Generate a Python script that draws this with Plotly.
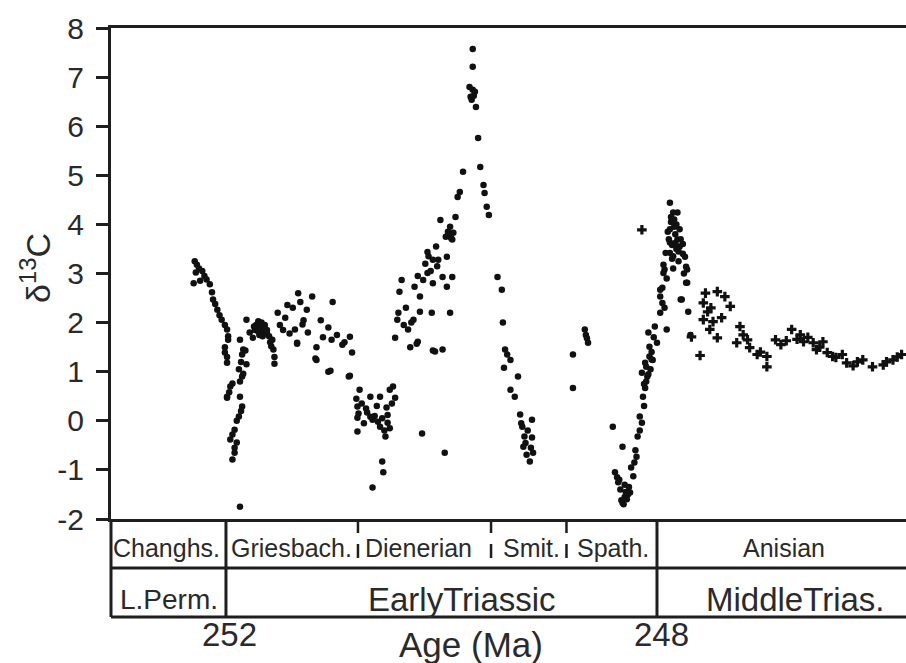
import plotly.graph_objects as go

# ---------------- data (age in Ma, delta13C in permil) ----------------
dot_age = [
    252.29, 252.27, 252.25, 252.28, 252.22, 252.20, 252.24, 252.30, 252.18, 252.15, 252.13,
    252.12, 252.10, 252.08, 252.06, 252.04, 252.01, 251.99, 251.98, 251.98, 252.01, 252.01, 251.99, 251.99,
    251.87, 251.84, 251.85, 251.86, 251.88, 251.85, 251.87, 251.96, 251.99, 251.97, 251.87, 251.85, 251.86,
    251.88, 251.90, 251.92, 251.94, 251.96, 251.90, 251.92, 251.92, 251.94, 251.87, 251.94, 251.99,
    251.81, 251.82, 251.84, 251.81, 251.75, 251.78, 251.72, 251.70, 251.68, 251.66, 251.64, 251.62, 251.69,
    251.73, 251.60, 251.57, 251.56, 251.55, 251.55, 251.52, 251.43, 251.33, 251.31, 251.25, 251.20, 251.36,
    251.34, 251.34, 251.29, 251.01, 251.16, 251.16, 251.17, 251.10, 251.05, 251.02, 251.05, 251.03, 250.92,
    250.85, 250.83, 250.85, 251.47, 251.50, 251.41, 251.45, 251.38, 251.12, 250.97, 250.90, 251.24, 251.28,
    251.71, 251.68, 251.66, 251.70, 251.64, 251.67, 251.62, 251.74, 251.59, 251.58,
    250.86, 250.76, 250.78, 250.78, 250.78, 250.79, 250.77, 250.69, 250.64, 250.57, 250.52, 250.66, 250.57,
    250.48, 250.45, 250.43, 250.51, 250.50, 250.60, 250.62, 250.55, 250.48, 250.46, 250.72, 250.74, 250.55,
    250.54, 250.64, 250.18, 249.97, 250.70, 250.66, 250.59, 250.53, 250.50,
    250.43, 250.41, 250.40, 250.31, 250.29, 250.22, 250.26, 250.20, 250.09, 249.92, 250.06, 250.39, 250.37,
    250.25, 250.20, 250.17, 250.13, 250.13, 250.08, 250.03, 249.95, 249.99, 249.95, 249.90, 250.01, 249.94,
    249.90, 249.89, 249.87, 249.85, 249.83, 249.80, 250.33, 250.28, 250.15, 250.10, 249.92, 249.96, 250.05,
    250.22, 250.08, 250.35, 249.99, 250.08, 250.23, 249.93, 249.91, 250.12, 250.04,
    249.71, 249.71, 249.71, 249.74, 249.69, 249.72, 249.68, 249.66, 249.64, 249.61, 249.60, 249.58, 249.56,
    249.73, 249.70,
    249.48, 249.44, 249.43, 249.41, 249.39, 249.36, 249.42, 249.29, 249.36, 249.32, 249.27, 249.16, 249.25,
    249.23, 249.16, 249.24, 249.21, 249.18, 249.15, 249.26, 249.20, 249.22, 249.17,
    248.78, 248.78, 248.67, 248.66, 248.64, 248.65,
    248.32, 248.34, 248.39, 248.25, 248.22, 248.41, 248.32, 248.19, 248.18, 248.14, 248.16, 248.13, 248.11,
    248.14, 248.09, 248.11, 248.07, 248.04, 248.07, 248.00, 248.08, 248.02, 247.91, 247.97, 247.97, 247.95,
    248.30, 248.28, 248.36, 248.30, 248.27, 248.24, 248.21, 248.20, 248.16, 248.12, 248.10, 248.06, 248.05,
    248.03, 248.37, 248.33, 248.26, 248.31, 248.29, 248.35, 248.08, 248.10, 248.12, 248.05,
    247.93, 247.94, 247.88, 247.88, 247.81, 247.76, 247.74, 247.72, 247.72, 247.86, 247.81, 247.88, 247.87,
    247.79, 247.92, 247.76, 247.73, 247.94, 247.73, 247.97, 247.78, 247.71, 247.69, 247.77, 247.85, 247.84,
    247.90, 247.83, 247.86, 247.80, 247.75, 247.85, 247.91, 247.89, 247.82, 247.79, 247.95, 247.93,
    247.87, 247.84, 247.82, 247.86, 247.80, 247.78, 247.85, 247.88, 247.83,
]
dot_d13c = [
    3.25, 3.18, 3.10, 3.02, 3.05, 2.95, 2.85, 2.80, 2.88, 2.78, 2.62,
    2.47, 2.38, 2.26, 2.15, 2.06, 1.95, 1.86, 1.72, 1.65, 1.50, 1.39, 1.30, 1.18,
    1.65, 1.45, 1.35, 1.20, 1.05, 0.90, 0.80, 0.70, 0.49, 0.58, 0.49, 0.29, 0.20,
    0.09, 0.00, -0.18, -0.28, -0.38, -0.44, -0.55, -0.65, -0.79, -1.75, 0.76, 0.47,
    2.06, 1.43, 0.96, 1.15, 1.69, 1.80, 1.95, 2.03, 1.90, 1.80, 1.95, 1.85, 1.75,
    1.85, 1.72, 1.65, 1.45, 1.30, 1.16, 2.20, 2.36, 2.60, 2.42, 2.26, 2.53, 1.86,
    1.59, 1.57, 1.96, 2.42, 1.50, 1.24, 1.27, 1.70, 1.90, 1.65, 1.00, 1.02, 1.55,
    1.71, 1.39, 0.92, 1.85, 1.95, 1.78, 2.10, 2.30, 2.05, 1.75, 1.60, 1.80, 2.05,
    1.88, 1.98, 1.72, 1.82, 1.88, 2.00, 1.78, 1.92, 1.60, 1.52,
    0.90, 0.63, 0.29, 0.06, -0.22, 0.45, 0.15, 0.17, 0.02, -0.12, -0.32, 0.49, 0.49,
    0.63, 0.70, 0.47, 0.27, -0.04, 0.30, 0.10, 0.05, -0.15, 0.35, -0.05, 0.35, -0.83,
    -1.05, -1.36, -0.26, -0.65, 0.25, 0.08, -0.02, -0.20, 0.12,
    1.69, 2.06, 2.20, 1.86, 1.50, 1.61, 2.06, 2.22, 2.20, 2.20, 1.41, 2.63, 2.87,
    2.73, 2.53, 2.87, 3.01, 3.44, 3.28, 3.28, 3.34, 2.93, 2.73, 2.93, 4.09, 3.85,
    3.69, 3.83, 4.15, 4.56, 4.66, 5.07, 2.30, 2.00, 3.20, 3.05, 3.95, 3.75, 3.55,
    2.95, 2.80, 1.95, 1.45, 1.43, 1.57, 3.78, 3.72, 3.35, 3.15,
    7.57, 7.21, 6.74, 6.80, 6.70, 6.54, 6.39, 5.76, 5.17, 4.80, 4.64, 4.36, 4.19,
    6.60, 6.62,
    2.93, 2.67, 2.00, 1.45, 1.35, 1.24, 1.08, 0.90, 0.63, 0.49, 0.13, 0.02, -0.12,
    -0.32, -0.34, -0.53, -0.69, -0.83, -0.65, -0.05, -0.20, -0.45, -0.55,
    1.35, 0.67, 1.86, 1.75, 1.59, 1.68,
    -1.67, -1.40, -1.05, -1.46, -1.13, -0.12, -0.53, -0.73, -0.32, -0.04, 0.09, 0.49, 0.67,
    0.98, 0.90, 1.18, 1.31, 1.24, 1.51, 1.59, 1.80, 1.92, 1.86, 2.20, 2.53, 2.71,
    -1.55, -1.60, -1.25, -1.30, -1.50, -0.95, -0.85, -0.60, -0.20, 0.30, 0.80, 1.05, 1.40,
    1.70, -1.15, -1.62, -1.35, -1.70, -1.45, -1.20, 0.95, 1.10, 0.75, 1.25,
    3.08, 3.18, 3.63, 3.42, 3.69, 3.60, 3.34, 3.08, 2.81, 4.09, 4.24, 4.44, 4.05,
    3.55, 3.42, 3.40, 3.14, 3.01, 2.81, 2.67, 2.47, 2.22, 1.75, 2.47, 4.24, 3.95,
    3.85, 3.80, 3.30, 3.25, 3.00, 3.10, 2.90, 3.70, 4.00, 3.90, 2.40, 2.30,
    4.15, 4.10, 3.50, 3.58, 3.45, 3.70, 3.35, 3.90, 3.62,
]

cross_age = [
    248.14, 247.60, 247.44, 247.37, 247.32, 247.57, 247.53, 247.57, 247.48, 247.51, 247.44, 247.68,
    247.23, 247.26, 247.16, 247.14, 247.07, 246.98, 246.98, 246.90, 246.80, 246.75, 246.67, 246.64,
    246.55, 246.46, 246.52, 246.42, 246.37, 246.28, 246.24, 246.14, 246.09, 246.00, 245.90, 245.81,
    245.73, 245.87, 245.77, 246.18, 246.34, 246.49, 246.60, 246.70, 246.85, 247.04, 247.20, 247.55,
    247.50, 247.40,
]
cross_d13c = [
    3.89, 1.33, 2.63, 2.53, 2.33, 2.40, 2.22, 2.06, 2.02, 1.86, 1.69, 1.71,
    1.92, 1.59, 1.65, 1.49, 1.35, 1.31, 1.10, 1.65, 1.63, 1.86, 1.75, 1.61,
    1.59, 1.61, 1.45, 1.39, 1.31, 1.35, 1.18, 1.20, 1.24, 1.10, 1.14, 1.24,
    1.35, 1.20, 1.30, 1.12, 1.29, 1.50, 1.70, 1.66, 1.55, 1.40, 1.75, 2.60,
    2.30, 2.10,
]

y_tick_vals = [-2, -1, 0, 1, 2, 3, 4, 5, 6, 7, 8]
y_tick_text = ["-2", "-1", "0", "1", "2", "3", "4", "5", "6", "7", "8"]

# time scale (stages / epochs)
stage_names = ["Changhs.", "Griesbach.", "Dienerian", "Smit.", "Spath.", "Anisian"]
stage_label_age = [252.55, 251.39, 250.21, 249.16, 248.41, 246.82]
stage_minor_bounds = [250.775, 249.54, 248.84]
major_bounds = [252.0, 248.0]
epoch_names = ["L.Perm.", "EarlyTriassic", "MiddleTrias."]
epoch_label_age = [252.53, 249.81, 246.71]
epoch_label_size = [28, 33, 33]
age_ticks = [252, 248]

X_RANGE = [253.067, 245.689]
LINE = "#1e1e1e"
TXT = "#2a2a2a"
FONT = "Liberation Sans, Arial, Helvetica, sans-serif"

fig = go.Figure()
fig.add_trace(go.Scatter(x=dot_age, y=dot_d13c, mode="markers",
                         marker=dict(symbol="circle", size=6.5, color="#111"),
                         showlegend=False, cliponaxis=True))
fig.add_trace(go.Scatter(x=cross_age, y=cross_d13c, mode="markers",
                         marker=dict(symbol="cross", size=8, color="#111"),
                         showlegend=False, cliponaxis=True))

# table geometry in paper coordinates (plot height 491 px)
R1 = -49 / 491
R2 = -98 / 491
shapes = []
for yy in (R1, R2):
    shapes.append(dict(type="line", xref="paper", yref="paper", x0=0, x1=1, y0=yy, y1=yy,
                       line=dict(color=LINE, width=3)))
shapes.append(dict(type="line", xref="paper", yref="paper", x0=0, x1=0, y0=0, y1=R2,
                   line=dict(color=LINE, width=3)))
for b in major_bounds:
    shapes.append(dict(type="line", xref="x", yref="paper", x0=b, x1=b, y0=0, y1=R2,
                       line=dict(color=LINE, width=3)))
for b in stage_minor_bounds:
    for (a, c) in ((-2 / 491, -14 / 491), (-25 / 491, -39 / 491)):
        shapes.append(dict(type="line", xref="x", yref="paper", x0=b, x1=b, y0=a, y1=c,
                           line=dict(color=LINE, width=2.5)))

ann = []
for n, a in zip(stage_names, stage_label_age):
    ann.append(dict(x=a, y=-29 / 491, xref="x", yref="paper", text=n, showarrow=False,
                    xanchor="center", yanchor="middle", font=dict(size=25, color=TXT, family=FONT)))
for n, a, s in zip(epoch_names, epoch_label_age, epoch_label_size):
    ann.append(dict(x=a, y=-80 / 491, xref="x", yref="paper", text=n, showarrow=False,
                    xanchor="center", yanchor="middle", font=dict(size=s, color=TXT, family=FONT)))
for t, sh in zip(age_ticks, (4, 5)):
    ann.append(dict(x=t, y=-115 / 491, xref="x", yref="paper", text=str(t), showarrow=False,
                    xshift=sh, xanchor="center", yanchor="middle",
                    font=dict(size=33, color=TXT, family=FONT)))
ann.append(dict(x=(471 - 111) / 795, y=-125 / 491, xref="paper", yref="paper", text="Age (Ma)",
                showarrow=False, xanchor="center", yanchor="middle",
                font=dict(size=35, color=TXT, family=FONT)))
ann.append(dict(x=(35 - 111) / 795, y=(519 - 268) / 491, xref="paper", yref="paper",
                text="δ<sup>13</sup>C", textangle=-90, showarrow=False,
                xanchor="center", yanchor="middle", font=dict(size=34, color=TXT, family=FONT)))

fig.update_layout(
    width=906, height=663,
    margin=dict(l=111, r=0, t=28, b=144, autoexpand=False),
    paper_bgcolor="white", plot_bgcolor="white",
    font=dict(family=FONT, color=TXT),
    shapes=shapes, annotations=ann,
    xaxis=dict(range=X_RANGE, showticklabels=False, ticks="", showgrid=False, zeroline=False,
               showline=True, mirror=True, linecolor=LINE, linewidth=3, automargin=False),
    yaxis=dict(range=[-2, 8], tickmode="array", tickvals=y_tick_vals, ticktext=y_tick_text,
               ticks="outside", ticklen=12, tickwidth=2.5,
               tickcolor=LINE, showgrid=False, zeroline=False, showline=True, linecolor=LINE,
               linewidth=3, tickfont=dict(size=30, color=TXT, family=FONT), ticklabelstandoff=6,
               automargin=False),
)
fig.write_html("out.html", config={"displayModeBar": False},
               post_script="document.body.style.margin='0';document.body.style.overflow='hidden';")
